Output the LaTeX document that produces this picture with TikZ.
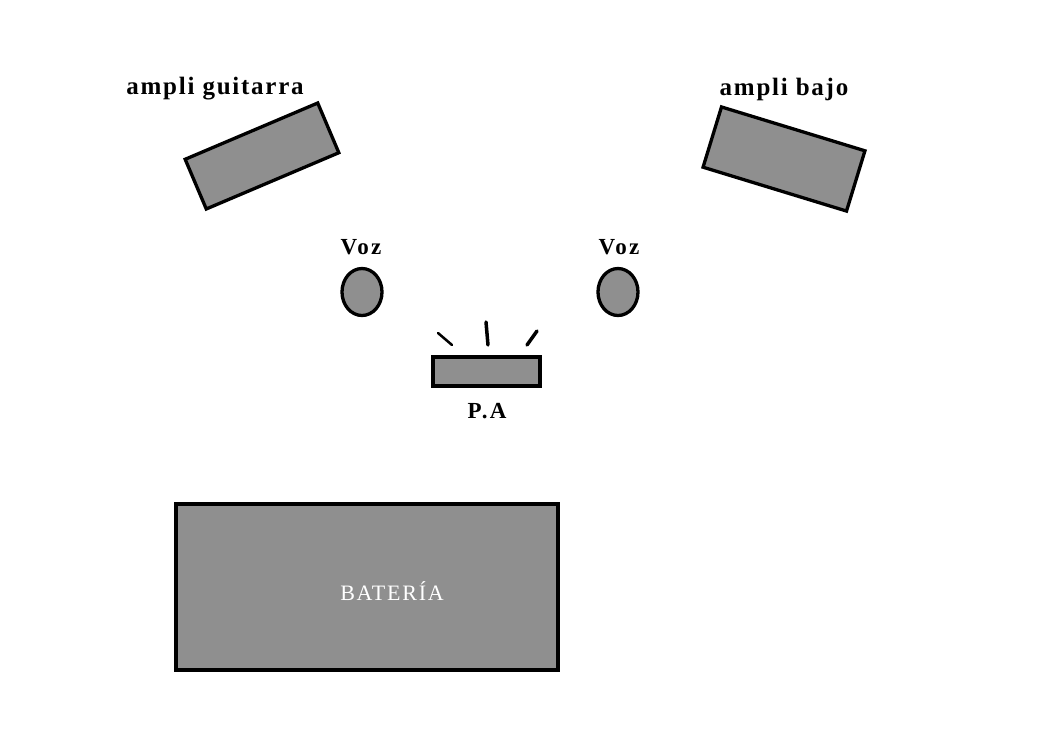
\documentclass[tikz,border=0pt]{standalone}
\usepackage{fontspec}
\setmainfont{Liberation Serif}
\usetikzlibrary{shapes.geometric}
\definecolor{boxgray}{HTML}{8F8F8F}
\tikzset{
  box/.style={draw=black, fill=boxgray, line width=3.3pt, inner sep=0pt, minimum width=#1},
  box/.default=100pt,
  voz/.style={draw=black, fill=boxgray, ellipse, line width=3.3pt, inner sep=0pt, minimum width=40pt, minimum height=47pt},
  biglbl/.style={font=\fontsize{25}{30}\selectfont\bfseries\addfontfeatures{LetterSpace=7}, inner sep=0pt},
  lbl/.style={font=\fontsize{23}{27}\selectfont\bfseries\addfontfeatures{LetterSpace=10}, inner sep=0pt},
  tick/.style={line width=3.5pt, line cap=round}
}
\begin{document}
\begin{tikzpicture}[x=1pt,y=-1pt]
\useasboundingbox (0,0) rectangle (1061,750);
% amplifiers
\node[box=144pt, minimum height=54pt, rotate=23] (guit) at (262,156) {};
\node[biglbl] (guitlbl) at (215,89) {ampli guitarra};
\node[box=150pt, minimum height=63pt, rotate=-17] (bajo) at (784,159) {};
\node[biglbl] (bajolbl) at (784,89) {ampli bajo};
% voices
\node[voz] (voz1) at (362,292) {};
\node[lbl] (voz1lbl) at (361,247) {Voz};
\node[voz] (voz2) at (618,292) {};
\node[lbl] (voz2lbl) at (619,247) {Voz};
% PA
\node[box=107pt, minimum height=29pt] (pa) at (486.5,371.5) {};
\node[lbl] (palbl) at (487,411) {P.A};
\coordinate (t1a) at (438,333); \coordinate (t1b) at (452,345);
\coordinate (t2a) at (486,322); \coordinate (t2b) at (488,345);
\coordinate (t3a) at (537,331); \coordinate (t3b) at (527,345);
\draw[tick, line width=2.5pt] (t1a) -- (t1b);
\draw[tick] (t2a) -- (t2b);
\draw[tick] (t3a) -- (t3b);
% drums
\node[box=382pt, minimum height=166pt] (bat) at (367,587) {};
\node[font=\fontsize{22}{26}\selectfont\addfontfeatures{LetterSpace=8}, text=white, inner sep=0pt] (batlbl) at (392,591) {BATERÍA};
\end{tikzpicture}
\end{document}
